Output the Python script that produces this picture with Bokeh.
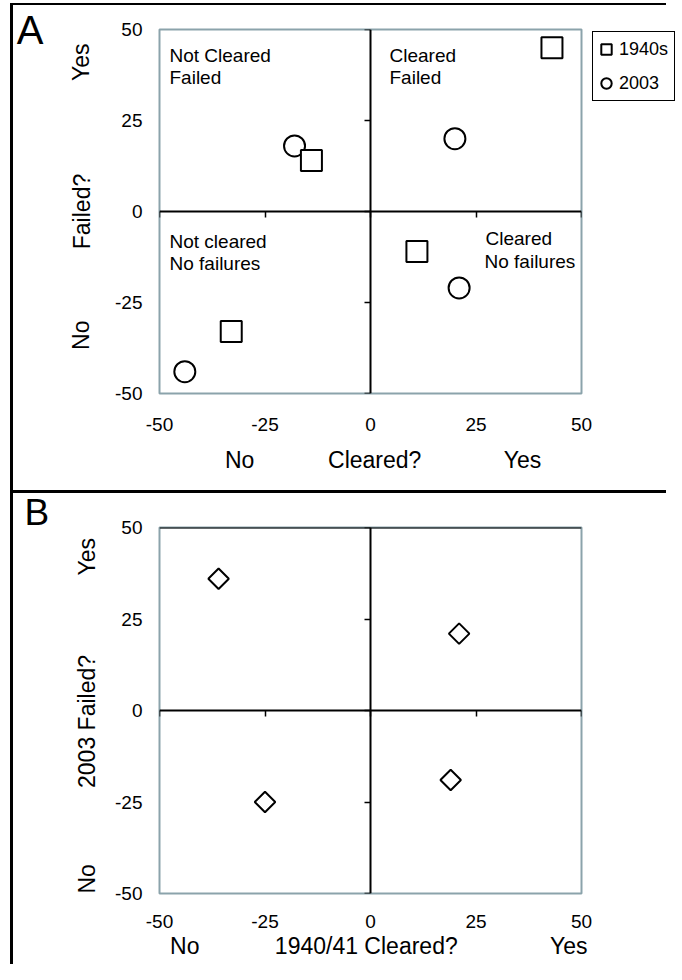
import math
from bokeh.plotting import figure
from bokeh.models import (ColumnDataSource, LinearAxis, FixedTicker, Label, Legend,
                          LegendItem, Span, Range1d, Spacer, Title)
from bokeh.layouts import column, row
from bokeh.embed import file_html
from bokeh.resources import INLINE

# ---------------- data ----------------
ticks = [-50, -25, 0, 25, 50]
tick_labels = {-50: "-50", -25: "-25", 0: "0", 25: "25", 50: "50"}

# Panel A: quadrant positions (Cleared? x, Failed? y)
x_1940s = [-14, 43, 11, -33]
y_1940s = [14, 45, -11, -33]
x_2003 = [-18, 20, 21, -44]
y_2003 = [18, 20, -21, -44]

# Panel B: 1940/41 Cleared? vs 2003 Failed?
x_b = [-36, 21, 19, -25]
y_b = [36, 21, -19, -25]

# axis titles (text, position along the axis)
a_xtitles = {-31: "No", 1: "Cleared?", 36: "Yes"}
a_ytitles = {41: "Yes", 0: "Failed?", -34: "No"}
b_xtitles = {-44: "No", -1: "1940/41 Cleared?", 47: "Yes"}
b_ytitles = {42: "Yes", -3: "2003 Failed?", -46: "No"}

FONT = "Liberation Sans"
FRAME = "#8ba3ab"
TICK_FS = "19px"
TITLE_FS = "23px"
QUAD_FS = "19px"


def make_fig(fw, fh, bl, br, bt, bb, xstand, xtitles, xt_stand, ytitles, yt_stand):
    p = figure(frame_width=fw, frame_height=fh,
               x_range=Range1d(-50, 50), y_range=Range1d(-50, 50),
               output_backend="svg", toolbar_location=None,
               x_axis_location=None, y_axis_location=None,
               min_border_left=bl, min_border_right=br,
               min_border_top=bt, min_border_bottom=bb)
    p.xgrid.visible = False
    p.ygrid.visible = False
    p.background_fill_color = "white"
    p.border_fill_color = "white"
    p.outline_line_color = FRAME
    p.outline_line_width = 2

    common = dict(axis_line_color=None,
                  major_tick_line_color=None, minor_tick_line_color=None,
                  major_tick_out=0, major_tick_in=0, minor_tick_out=0, minor_tick_in=0,
                  major_label_text_font=FONT, major_label_text_color="black")
    # numeric tick labels at frame edges
    p.add_layout(LinearAxis(ticker=FixedTicker(ticks=ticks), major_label_overrides=tick_labels,
                            major_label_standoff=xstand, major_label_text_font_size=TICK_FS,
                            **common), "below")
    p.add_layout(LinearAxis(ticker=FixedTicker(ticks=ticks), major_label_overrides=tick_labels,
                            major_label_standoff=17, major_label_text_font_size=TICK_FS,
                            **common), "left")
    # axis titles (No / title / Yes)
    p.add_layout(LinearAxis(ticker=FixedTicker(ticks=list(xtitles.keys())),
                            major_label_overrides=xtitles, major_label_standoff=xt_stand,
                            major_label_text_font_size=TITLE_FS, **common), "below")
    p.add_layout(LinearAxis(ticker=FixedTicker(ticks=list(ytitles.keys())),
                            major_label_overrides=ytitles, major_label_standoff=yt_stand,
                            major_label_orientation="parallel",
                            major_label_text_font_size=TITLE_FS, **common), "left")

    # axes crossing at zero
    zero = dict(ticker=FixedTicker(ticks=ticks), fixed_location=0,
                axis_line_color="black", axis_line_width=2,
                major_tick_line_color="black", major_tick_line_width=1.5,
                major_tick_out=6, major_tick_in=0, minor_tick_line_color=None,
                major_label_text_color=None, major_label_text_font_size="1px")
    p.add_layout(LinearAxis(**zero), "below")
    p.add_layout(LinearAxis(**zero), "left")
    return p


def lab(p, text, x, y, xo, yo, size=QUAD_FS):
    p.add_layout(Label(x=x, y=y, x_offset=xo, y_offset=yo, text=text,
                       text_font=FONT, text_font_size=size, text_color="black",
                       text_align="left", text_baseline="alphabetic"))


def bar(w, h, color=None):
    s = Spacer(width=w, height=h)
    if color:
        s.styles = {"background-color": color}
    return s


W = 653  # figure width (page is 666 wide: 10 + 3 + 653)

# ---------------- Panel A ----------------
pA = make_fig(422, 364, 144, 87, 24, 97, 24, a_xtitles, 13, a_ytitles, 18)

# panel letter A
pA.add_layout(LinearAxis(ticker=FixedTicker(ticks=[50]), major_label_overrides={50: "A"},
                         major_label_standoff=22, major_label_text_font_size="40px",
                         major_label_text_font=FONT, major_label_text_color="black",
                         axis_line_color=None, major_tick_line_color=None,
                         minor_tick_line_color=None, major_tick_out=0, major_tick_in=0), "left")

srcA2 = ColumnDataSource(dict(x=x_2003, y=y_2003))
srcA1 = ColumnDataSource(dict(x=x_1940s, y=y_1940s))
r_ci = pA.scatter("x", "y", source=srcA2, marker="circle", size=21,
                  fill_color="white", line_color="black", line_width=2)
r_sq = pA.scatter("x", "y", source=srcA1, marker="square", size=21,
                  fill_color="white", line_color="black", line_width=2)

legend = Legend(items=[LegendItem(label="1940s", renderers=[r_sq]),
                       LegendItem(label="2003", renderers=[r_ci])],
                location=(11, 292), glyph_width=26, glyph_height=34,
                spacing=0, padding=0, margin=0, label_standoff=0, label_width=55,
                label_text_font=FONT, label_text_font_size="18px", label_text_color="black",
                border_line_color="black", border_line_width=1.5, border_line_alpha=1.0,
                background_fill_color="white", background_fill_alpha=1.0)
pA.add_layout(legend, "right")

# quadrant captions
lab(pA, "Not Cleared", -50, 50, 10, -26)
lab(pA, "Failed", -50, 50, 10, -48)
lab(pA, "Cleared", 0, 50, 19, -26)
lab(pA, "Failed", 0, 50, 19, -48)
lab(pA, "Not cleared", -50, 0, 10, -30)
lab(pA, "No failures", -50, 0, 10, -52)
lab(pA, "Cleared", 0, 0, 115, -27)
lab(pA, "No failures", 0, 0, 114, -50)

# ---------------- Panel B ----------------
pB = make_fig(422, 366, 146, 85, 34, 71, 21, b_xtitles, 2, b_ytitles, 12)
pB.add_layout(Span(location=50, dimension="width", line_color="black", line_width=2))
pB.add_layout(Title(text="B", align="left", offset=-135, standoff=-11,
                    vertical_align="bottom", text_font=FONT, text_font_size="37px",
                    text_font_style="normal", text_color="black"), "above")

srcB = ColumnDataSource(dict(x=x_b, y=y_b))
pB.scatter("x", "y", source=srcB, marker="square", angle=math.pi / 4, size=14.5,
           fill_color="white", line_color="black", line_width=2)

# ---------------- outer box + layout ----------------
left_edge = column(bar(3, 3), bar(3, 961, "black"), spacing=0)
right_col = column(bar(W, 3), bar(W, 2, "black"), pA, bar(W, 3, "black"), pB, spacing=0)
layout = row(bar(10, 964), left_edge, right_col, spacing=0)

open("out.html", "w").write(file_html(layout, INLINE))
